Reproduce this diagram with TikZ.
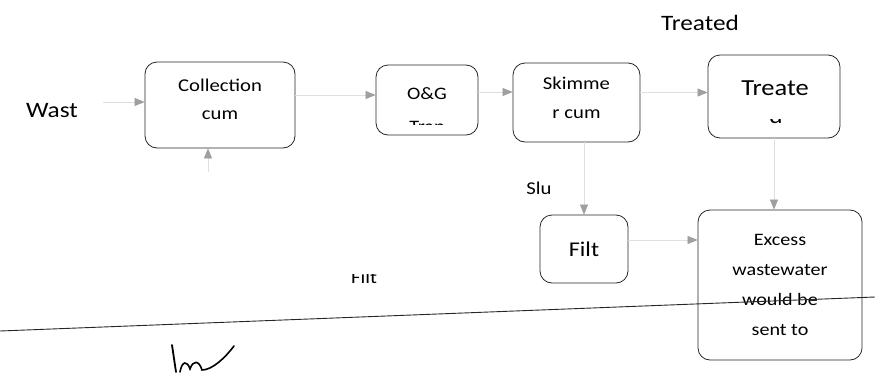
\documentclass[tikz,border=0pt]{standalone}
\usepackage{fontspec}
\setmainfont{Carlito}[FakeStretch=1.15]
\usetikzlibrary{arrows.meta}

\begin{document}
\begin{tikzpicture}[x=1pt, y=-1pt,
    box/.style={draw=black!85, line width=0.8pt, rounded corners=12pt, align=center, text=black, inner sep=0pt},
    flow/.style={draw=gray!25, line width=0.7pt, -{Triangle[length=10pt, width=8pt, color=gray!75]}},
    lbl/.style={text=black, inner sep=0pt}]

    \useasboundingbox (0,0) rectangle (875,372);

    % Boxes of the treatment line
    \node[box, minimum width=150pt, minimum height=86pt, text depth=12pt, font=\fontsize{18}{28}\selectfont] (coll) at (220,105) {Collection\\cum};
    \node[box, minimum width=102pt, minimum height=70pt, font=\fontsize{17.5}{22}\selectfont] (og) at (427,100) {};
    \node[box, minimum width=127pt, minimum height=79pt, text depth=10pt, font=\fontsize{18}{29}\selectfont] (skim) at (576.5,102.5) {Skimme\\r cum};
    \node[box, minimum width=132pt, minimum height=83pt, font=\fontsize{23}{28}\selectfont] (treat) at (774,96.5) {};
    \node[box, minimum width=88pt, minimum height=68pt, font=\fontsize{21}{24}\selectfont] (filt) at (584,249) {Filt};
    \node[box, minimum width=164pt, minimum height=150pt, font=\fontsize{17.5}{30}\selectfont] (exc) at (780,285) {Excess\\wastewater\\would be\\sent to};

    % Texts of the boxes that are cut off
    \node[lbl, anchor=base, font=\fontsize{17.5}{22}\selectfont] (ogtop) at (427,99) {O\&G};
    \node[lbl, anchor=base, font=\fontsize{23}{28}\selectfont] (treattop) at (775,95) {Treate};
    \begin{scope}
        \clip (380,110) rectangle (475,124);
        \node[lbl, anchor=base, font=\fontsize{17.5}{22}\selectfont] (ogcut) at (427,132) {Trap};
    \end{scope}
    \begin{scope}
        \clip (740,119.5) rectangle (810,128);
        \node[lbl, anchor=base, font=\fontsize{22}{28}\selectfont] (treatcut) at (776,123) {d};
    \end{scope}
    \begin{scope}
        \clip (330,274) rectangle (400,290);
        \node[lbl, anchor=base, font=\fontsize{18}{24}\selectfont] (filtcut) at (364,283) {Filt};
    \end{scope}

    % Free labels
    \node[lbl, font=\fontsize{22}{26}\selectfont] (wast) at (52,111) {Wast};
    \node[lbl, font=\fontsize{22}{26}\selectfont] (treated) at (700,23) {Treated};
    \node[lbl, font=\fontsize{18}{20}\selectfont] (slu) at (539,188) {Slu};

    % Connectors
    \coordinate (feed) at (208,172);
    \draw[flow] ([xshift=25pt, yshift=9pt]wast.east) -- ([yshift=9pt]wast.east -| coll.west);
    \draw[flow] (feed) -- (feed |- coll.south);
    \draw[flow] ([yshift=5pt]og.west -| coll.east) -- ([yshift=5pt]og.west);
    \draw[flow] ([yshift=8pt]og.east) -- ([yshift=8pt]og.east -| skim.west);
    \draw[flow] ([yshift=10pt]skim.east) -- ([yshift=10pt]skim.east -| treat.west);
    \draw[flow] (filt.north |- skim.south) -- (filt.north);
    \draw[flow] (treat.south) -- (treat.south |- exc.north);
    \draw[flow] ([yshift=9pt]filt.east) -- ([yshift=9pt]filt.east -| exc.west);

    % Ruled line across the page
    \coordinate (rulel) at (0,331);
    \coordinate (ruler) at (875,297);
    \draw[black!85, line width=0.9pt] (rulel) -- (ruler);

    % Signature
    \draw[black, line width=1.8pt, line cap=round] (172,345) -- (176,372);
    \draw[black, line width=1.6pt, line cap=round] (180,372) .. controls (182,361) and (187,360) .. (190,369)
        .. controls (193,360) and (199,360) .. (202,370) .. controls (212,370) and (225,358) .. (234,346);
\end{tikzpicture}
\end{document}
